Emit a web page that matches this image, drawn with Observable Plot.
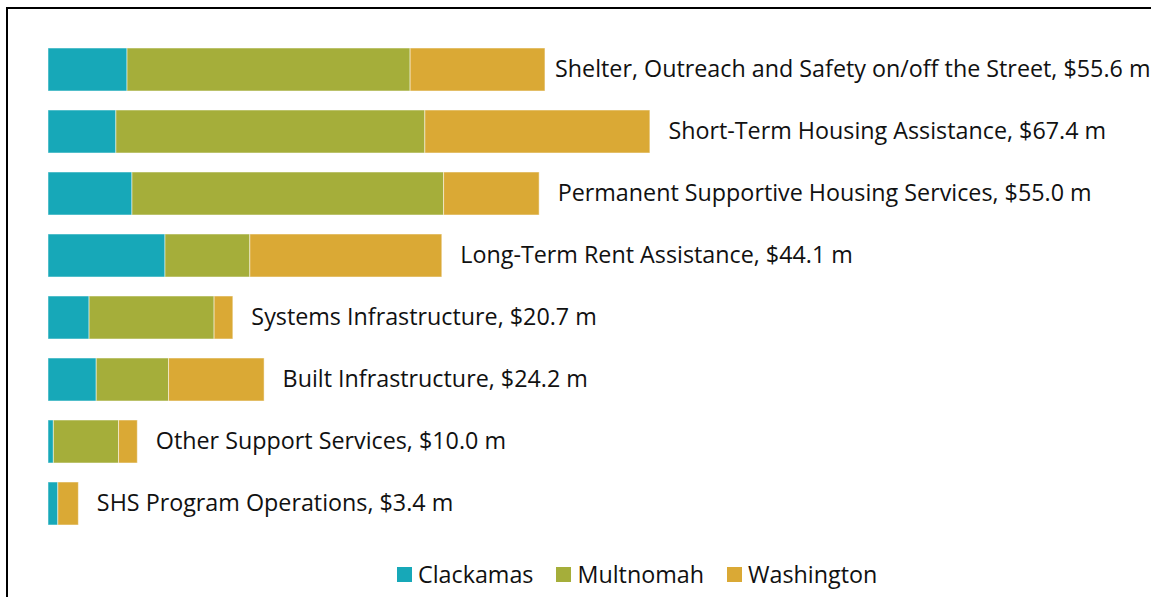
<!DOCTYPE html>
<html>
<head>
<meta charset="utf-8">
<script src="https://cdn.jsdelivr.net/npm/d3@7"></script>
<script src="https://cdn.jsdelivr.net/npm/@observablehq/plot@0.6"></script>
<style>
  html, body { margin: 0; padding: 0; background: #fff; overflow: hidden; width: 1151px; height: 597px; }
  #frame { position: absolute; left: 6px; top: 7px; width: 1300px; height: 700px; border: 2px solid #000; box-sizing: border-box; }
  #chart { position: absolute; left: 0; top: 0; }
  #chart svg { overflow: visible; }
  #legend { position: absolute; left: 397px; top: 558px; display: flex; align-items: center; font-family: "Open Sans", sans-serif; font-size: 23.3px; color: #111; white-space: nowrap; }
  #legend .sw { width: 15px; height: 15px; display: inline-block; margin-right: 6px; }
  #legend .item { display: flex; align-items: center; margin-right: 23px; }
</style>
</head>
<body>
<div id="frame"></div>
<div id="chart"></div>
<div id="legend"></div>
<script>
const categories = [
  "Shelter, Outreach and Safety on/off the Street",
  "Short-Term Housing Assistance",
  "Permanent Supportive Housing Services",
  "Long-Term Rent Assistance",
  "Systems Infrastructure",
  "Built Infrastructure",
  "Other Support Services",
  "SHS Program Operations"
];
const counties = ["Clackamas", "Multnomah", "Washington"];
const clackamas  = [8.85, 7.6, 9.4, 13.1, 4.6, 5.4, 0.6, 1.1];
const multnomah  = [31.7, 34.6, 34.9, 9.5, 14.0, 8.1, 7.3, 0.0];
const washington = [15.1, 25.2, 10.7, 21.5, 2.1, 10.7, 2.1, 2.3];
const totals = [55.6, 67.4, 55.0, 44.1, 20.7, 24.2, 10.0, 3.4];
const colors = ["#17a8b8", "#a5ae3a", "#daa935"];

const series = [clackamas, multnomah, washington];
const rows = [];
categories.forEach((c, i) => {
  counties.forEach((k, j) => rows.push({category: c, county: k, value: series[j][i]}));
});
const labels = categories.map((c, i) => ({idx: i, category: c, total: totals[i], text: `${c}, $${totals[i].toFixed(1)} m`}));

const chart = Plot.plot({
  width: 1151,
  height: 560,
  marginLeft: 48,
  marginRight: 210,
  marginTop: 27,
  marginBottom: 14,
  x: {domain: [0, 100], axis: null},
  y: {domain: categories, axis: null, padding: 0.3},
  color: {domain: counties, range: colors},
  style: {fontFamily: "'Open Sans', sans-serif", background: "transparent"},
  marks: [
    Plot.barX(rows, {x: "value", y: "category", fill: "county", stroke: "#fff", strokeOpacity: 0.5, strokeWidth: 1, order: null}),
    Plot.text(labels.filter(d => d.idx === 0), {x: "total", y: "category", text: "text", textAnchor: "start", dx: 10, fontSize: 23.3, fill: "#111"}),
    Plot.text(labels.filter(d => d.idx !== 0), {x: "total", y: "category", text: "text", textAnchor: "start", dx: 18, fontSize: 23.3, fill: "#111"})
  ]
});
document.getElementById("chart").appendChild(chart);

const legend = document.getElementById("legend");
counties.forEach((k, j) => {
  const item = document.createElement("div");
  item.className = "item";
  item.innerHTML = `<span class="sw" style="background:${colors[j]}"></span><span>${k}</span>`;
  legend.appendChild(item);
});
</script>
</body>
</html>
